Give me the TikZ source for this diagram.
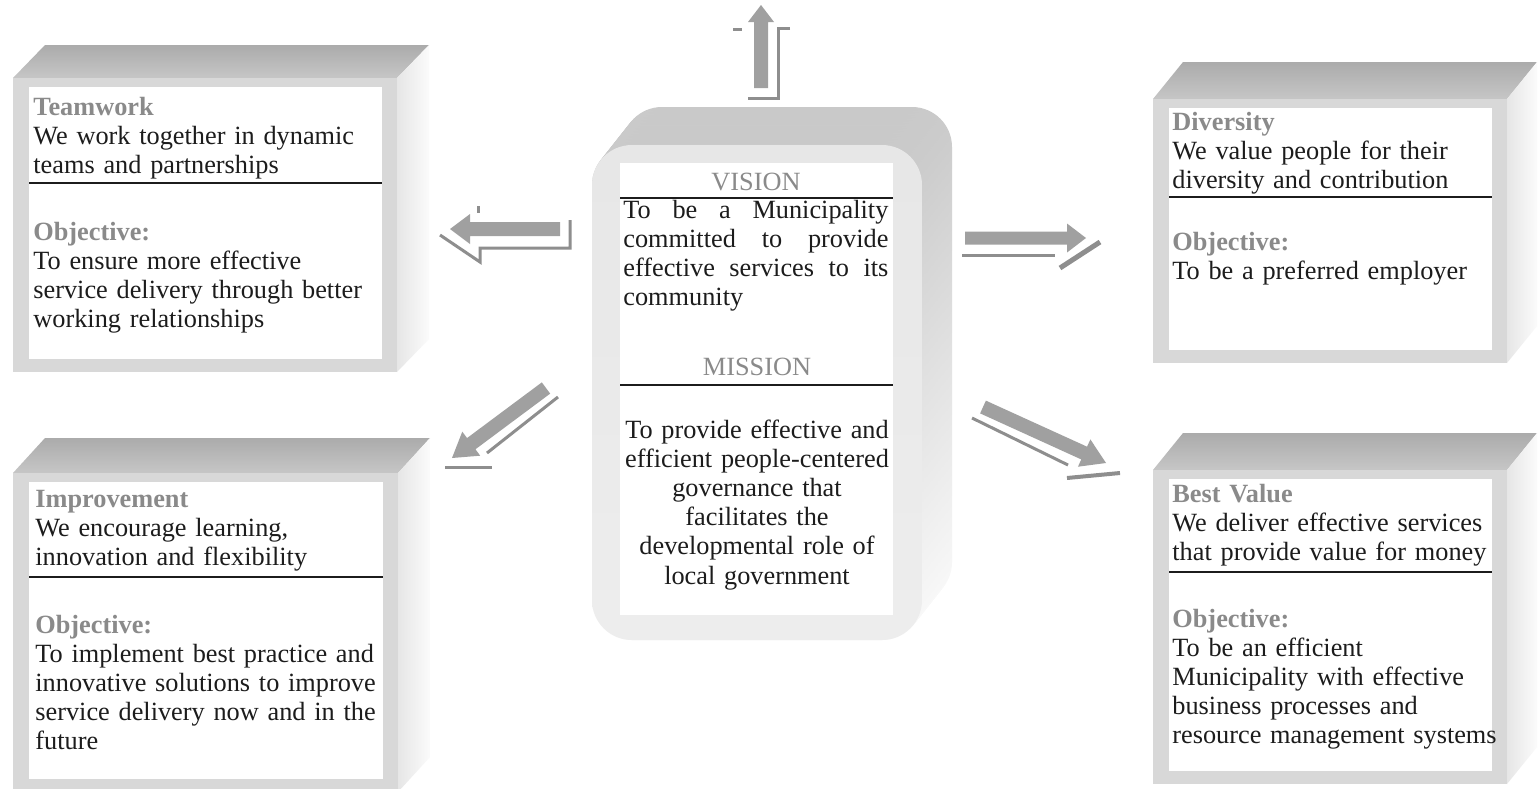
\documentclass[tikz,border=0pt]{standalone}
\usepackage{fontspec}
\setmainfont{Liberation Serif}
\usetikzlibrary{calc}

\definecolor{headgray}{HTML}{8A8A8A}
\definecolor{framegray}{HTML}{D8D8D8}
\definecolor{topdark}{HTML}{ABABAB}
\definecolor{toplight}{HTML}{C6C6C6}
\definecolor{sidegray}{HTML}{E6E6E6}
\definecolor{sidelight}{HTML}{FBFBFB}
\definecolor{arrowfill}{HTML}{A0A0A0}
\definecolor{shadowline}{HTML}{8E8E8E}
\definecolor{inkblack}{HTML}{1C1C1C}

\tikzset{
  valuetext/.style={anchor=base west, inner sep=0pt, text width=178pt, align=left,
    text=inkblack, font=\fontsize{13.15}{14.6}\selectfont},
  centretext/.style={inner sep=0pt, text=inkblack, font=\fontsize{13.15}{14.6}\selectfont},
  headline/.style={inner sep=0pt, text=headgray, font=\fontsize{13.15}{14.6}\selectfont},
  rule/.style={draw=inkblack, line width=0.7pt},
  shadowseg/.style={draw=shadowline, line width=1.5pt},
}

% a box with a top face and a right side face; args: x0 y0 x1 y1 dx dy
\newcommand\valuecube[6]{%
  \shade[top color=topdark, bottom color=toplight]
    (#1,#2) -- ({#1+#5},{#2-#6}) -- ({#3+#5},{#2-#6}) -- (#3,#2) -- cycle;
  \shade[left color=sidegray, right color=sidelight]
    (#3,#2) -- ({#3+#5},{#2-#6}) -- ({#3+#5},{#4-#6}) -- (#3,#4) -- cycle;
  \fill[framegray] (#1,#2) rectangle (#3,#4);
  \fill[white] ({#1+16},{#2+9}) rectangle ({#3-15},{#4-13});
}

% block arrow from #1 to #2; half shaft #3, half head #4, head length #5
\newcommand\blockarrow[5]{%
  \coordinate (ah) at ($(#2)!#5!(#1)$);
  \fill[arrowfill] ($(#1)!#3!90:(#2)$) -- ($(ah)!#3!90:(#2)$) -- ($(ah)!#4!90:(#2)$)
    -- (#2) -- ($(ah)!#4!-90:(#2)$) -- ($(ah)!#3!-90:(#2)$) -- ($(#1)!#3!-90:(#2)$) -- cycle;
}

\begin{document}
\begin{tikzpicture}[x=0.5pt, y=-0.5pt]
\useasboundingbox (0,0) rectangle (1538,788);
\fill[white] (0,0) rectangle (1538,788);

% ---- four value boxes ----
\valuecube{13}{78}{397}{372}{32}{33}
\valuecube{13}{473}{398}{792}{32}{35}
\valuecube{1153}{99}{1507}{363}{30}{37}
\valuecube{1153}{470}{1507}{784}{30}{37}

% ---- central rounded block (extruded) ----
\foreach \i in {0,...,24} {
  \pgfmathsetmacro\t{\i/24}
  \shade[top color=gray!42, bottom color=gray!4, rounded corners=20pt]
    ({622-30*\t},{107+38*\t}) rectangle ({952-30*\t},{602+38*\t});
}
\shade[top color=gray!19, bottom color=gray!14, rounded corners=20pt]
  (592,145) rectangle (922,640);
\fill[white] (620,163) rectangle (893,615);

% ---- texts: Teamwork ----
\node[valuetext] (teamA) at (33,115)
  {{\bfseries\color{headgray}Teamwork}\\We work together in dynamic\\teams and partnerships};
\draw[rule] (29,183) -- (382,183);
\node[valuetext] (teamB) at (33,240)
  {{\bfseries\color{headgray}Objective:}\\To ensure more effective\\service delivery through better\\working relationships};

% ---- Improvement ----
\node[valuetext] (impA) at (35,507)
  {{\bfseries\color{headgray}Improvement}\\We encourage learning,\\innovation and flexibility};
\draw[rule] (29,577) -- (383,577);
\node[valuetext] (impB) at (35,633)
  {{\bfseries\color{headgray}Objective:}\\To implement best practice and\\innovative solutions to improve\\service delivery now and in the\\future};

% ---- Diversity ----
\node[valuetext] (divA) at (1172,130)
  {{\bfseries\color{headgray}Diversity}\\We value people for their\\diversity and contribution};
\draw[rule] (1169,197) -- (1492,197);
\node[valuetext] (divB) at (1172,250)
  {{\bfseries\color{headgray}Objective:}\\To be a preferred employer};

% ---- Best Value ----
\node[valuetext] (valA) at (1172,502)
  {{\bfseries\color{headgray}Best Value}\\We deliver effective services\\that provide value for money};
\draw[rule] (1169,572) -- (1492,572);
\node[valuetext] (valB) at (1172,627)
  {{\bfseries\color{headgray}Objective:}\\To be an efficient\\Municipality with effective\\business processes and\\resource management systems};

% ---- Vision / Mission ----
\node[headline, anchor=base] (vision) at (756,190) {VISION};
\draw[rule] (620,198) -- (893,198);
\node[centretext, anchor=base west, text width=132.5pt, align=justify] (visiontext) at (623,218)
  {To be a Municipality\linebreak committed to provide\linebreak effective services to its\linebreak community};
\node[headline, anchor=base] (mission) at (757,375) {MISSION};
\draw[rule] (620,385) -- (893,385);
\node[centretext, anchor=base, text width=135pt, align=center] (missiontext) at (757,438)
  {To provide effective and\\efficient people-centered\\governance that\\facilitates the\\developmental role of\\local government};

% ---- arrows out of the centre ----
\coordinate (upA) at (761,88);   \coordinate (upB) at (761,5);
\coordinate (lfA) at (560,229);  \coordinate (lfB) at (450,229);
\coordinate (llA) at (546,388);  \coordinate (llB) at (452,458);
\coordinate (rtA) at (965,238);  \coordinate (rtB) at (1086,238);
\coordinate (lrA) at (983,407);  \coordinate (lrB) at (1106,463);

% shadow strokes
\draw[shadowseg] (733,29) -- (742,29);
\draw[shadowseg] (790,28) -- (778,28) -- (778,98) -- (748,98);
\draw[shadowseg] (478,206) -- (478,213);
\draw[shadowseg] (440,235) -- (480,262) -- (480,248) -- (570,248) -- (570,220);
\draw[shadowseg] (558,397) -- (487,453);
\draw[shadowseg] (445,467) -- (492,467);
\draw[shadowseg] (962,255) -- (1055,255);
\draw[shadowseg, line width=2.5pt] (1060,268) -- (1100,242);
\draw[shadowseg] (972,418) -- (1068,465);
\draw[shadowseg, line width=2pt] (1067,478) -- (1120,473);

\blockarrow{upA}{upB}{3.5pt}{6.5pt}{8.5pt}
\blockarrow{lfA}{lfB}{3.5pt}{7.5pt}{10pt}
\blockarrow{llA}{llB}{3.5pt}{7.5pt}{12pt}
\blockarrow{rtA}{rtB}{3.25pt}{7.25pt}{9.5pt}
\blockarrow{lrA}{lrB}{3.5pt}{7.5pt}{12pt}
\end{tikzpicture}
\end{document}
